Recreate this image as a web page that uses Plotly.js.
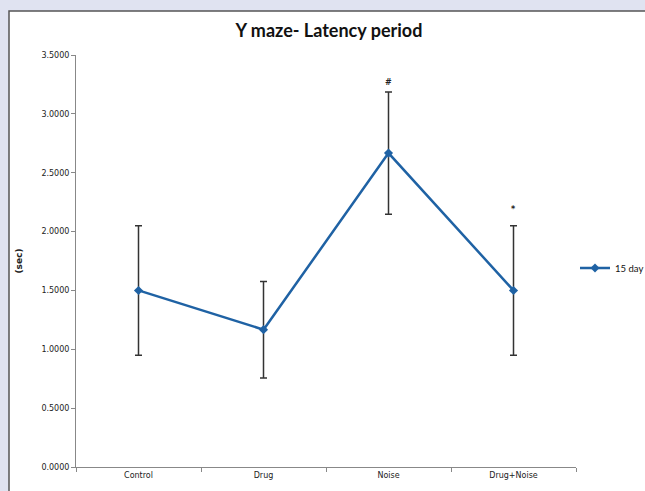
<!DOCTYPE html>
<html>
<head>
<meta charset="utf-8">
<script src="https://cdn.plot.ly/plotly-3.0.1.min.js"></script>
<style>html,body{margin:0;padding:0;background:#e0e3f1;}#chart{width:645px;height:491px;}</style>
</head>
<body>
<div id="chart"></div>
<script>
const categories = ["Control", "Drug", "Noise", "Drug+Noise"];
const latency15day = [1.5, 1.1667, 2.6667, 1.5];
const errors15day = [0.55, 0.41, 0.52, 0.55];
const markLabels = ["", "", "#", "*"];
const markHeights = [0, 0, 3.27, 2.19];
const seriesName = "15 day";

const trace = {
  x: categories,
  y: latency15day,
  name: seriesName,
  type: "scatter",
  mode: "lines+markers",
  line: {color: "#1f62a4", width: 2.5},
  marker: {symbol: "diamond", size: 7, color: "#1f62a4"},
  error_y: {type: "data", array: errors15day, visible: true, color: "#333333", thickness: 1.5, width: 3.5}
};

const annotations = [];
categories.forEach((c, i) => {
  if (markLabels[i]) {
    annotations.push({x: c, y: markHeights[i], xref: "x", yref: "y", text: "<b>" + markLabels[i] + "</b>",
      showarrow: false, font: {family: "DejaVu Sans", size: 8, color: "#222"}});
  }
});

const layout = {
  width: 645, height: 491,
  paper_bgcolor: "#e0e3f1",
  plot_bgcolor: "rgba(0,0,0,0)",
  margin: {l: 76, r: 69, t: 55, b: 24, pad: 0, autoexpand: false},
  showlegend: true,
  title: {text: "<b>Y maze- Latency period</b>", x: 0.51, xanchor: "center", y: 0.937, yanchor: "middle",
    font: {family: "Lato", size: 18, color: "#111"}},
  xaxis: {
    type: "category", range: [-0.5, 3.5], tickson: "boundaries",
    ticks: "outside", ticklen: 4, tickcolor: "#888", showline: true, linecolor: "#888", linewidth: 1,
    showgrid: false, zeroline: false,
    tickfont: {family: "DejaVu Sans", size: 8, color: "#222"}
  },
  yaxis: {
    range: [0, 3.5], dtick: 0.5, tick0: 0, tickformat: ".4f",
    ticks: "outside", ticklen: 4, tickcolor: "#888", showline: true, linecolor: "#888", linewidth: 1,
    showgrid: false, zeroline: false,
    tickfont: {family: "DejaVu Sans", size: 8, color: "#222"},
    title: {text: "<b>(sec)</b>", standoff: 17, font: {family: "DejaVu Sans", size: 9, color: "#222"}}
  },
  legend: {x: 0.998, xanchor: "left", y: 0.483, yanchor: "middle", bgcolor: "rgba(0,0,0,0)",
    font: {family: "Lato", size: 9.5, color: "#111"}, itemwidth: 30},
  shapes: [{type: "rect", xref: "paper", yref: "paper", layer: "below",
    x0: (9 - 76) / 500, x1: 1.3, y0: -0.2, y1: (467 - 11) / 412,
    fillcolor: "#ffffff", line: {color: "#555", width: 1.5}}],
  annotations: annotations
};

Plotly.newPlot("chart", [trace], layout, {displayModeBar: false, staticPlot: true});
</script>
</body>
</html>
